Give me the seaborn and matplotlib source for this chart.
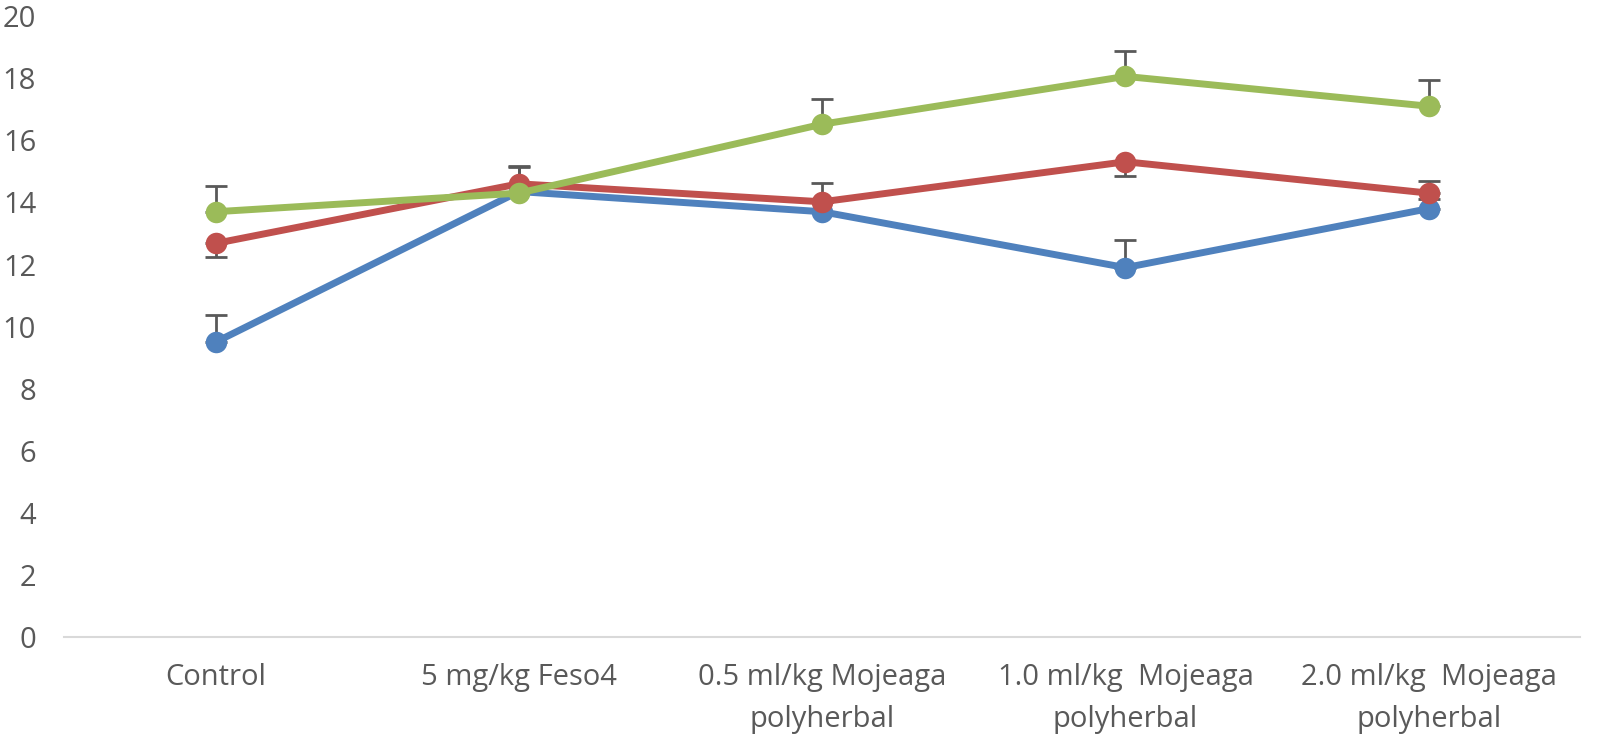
import pandas as pd
import seaborn as sns
import matplotlib.pyplot as plt

groups = ["Control", "5 mg/kg Feso4", "0.5 ml/kg Mojeaga\npolyherbal",
          "1.0 ml/kg  Mojeaga\npolyherbal", "2.0 ml/kg  Mojeaga\npolyherbal"]
series_names = ["Series1", "Series2", "Series3"]

series1 = [9.5, 14.35, 13.7, 11.9, 13.8]
series2 = [12.68, 14.6, 14.02, 15.31, 14.3]
series3 = [13.7, 14.3, 16.52, 18.06, 17.1]

# error bars only shown in one direction (as in the original Excel chart)
series1_err_up = [0.86, 0.8, 0.3, 0.89, 0.3]
series1_err_down = [0, 0, 0, 0, 0]
series2_err_up = [0, 0.58, 0.6, 0, 0.4]
series2_err_down = [0.43, 0, 0, 0.46, 0]
series3_err_up = [0.82, 0.3, 0.8, 0.82, 0.84]
series3_err_down = [0, 0, 0, 0, 0]

colors = ["#4F81BD", "#C0504D", "#9BBB59"]


def build_frame():
    rows = []
    for name, vals in zip(series_names, [series1, series2, series3]):
        for g, v in zip(groups, vals):
            rows.append({"group": g, "value": v, "series": name})
    return pd.DataFrame(rows)


df = build_frame()

sns.set_style("white")
plt.rcParams["font.family"] = ["Open Sans", "DejaVu Sans"]

fig, ax = plt.subplots(figsize=(15.98, 7.35), dpi=100)
fig.subplots_adjust(left=0.04, right=0.989, top=0.978, bottom=0.1333)

# error bars first so they sit behind the lines
errs = [(series1, series1_err_down, series1_err_up),
        (series2, series2_err_down, series2_err_up),
        (series3, series3_err_down, series3_err_up)]
for vals, lo, hi in errs:
    ax.errorbar(range(len(groups)), vals, yerr=[lo, hi], fmt="none",
                ecolor="#595959", elinewidth=2, capsize=8, capthick=2, zorder=1)

sns.lineplot(data=df, x="group", y="value", hue="series", palette=colors,
             marker="o", markersize=15.5, markeredgewidth=0, linewidth=5,
             sort=False, legend=False, ax=ax, zorder=3)

ax.set_ylim(0, 20)
ax.set_yticks(range(0, 21, 2))
ax.set_xlim(-0.5, len(groups) - 0.5)
ax.set_xlabel("")
ax.set_ylabel("")

for side in ["left", "right", "top"]:
    ax.spines[side].set_visible(False)
ax.spines["bottom"].set_color("#D9D9D9")
ax.spines["bottom"].set_linewidth(1.5)

ax.tick_params(axis="both", length=0, labelsize=21, colors="#595959")
ax.tick_params(axis="y", pad=20)
ax.tick_params(axis="x", pad=19)
for lbl in ax.get_xticklabels():
    lbl.set_linespacing(1.55)

plt.savefig("out.png", dpi=100)
